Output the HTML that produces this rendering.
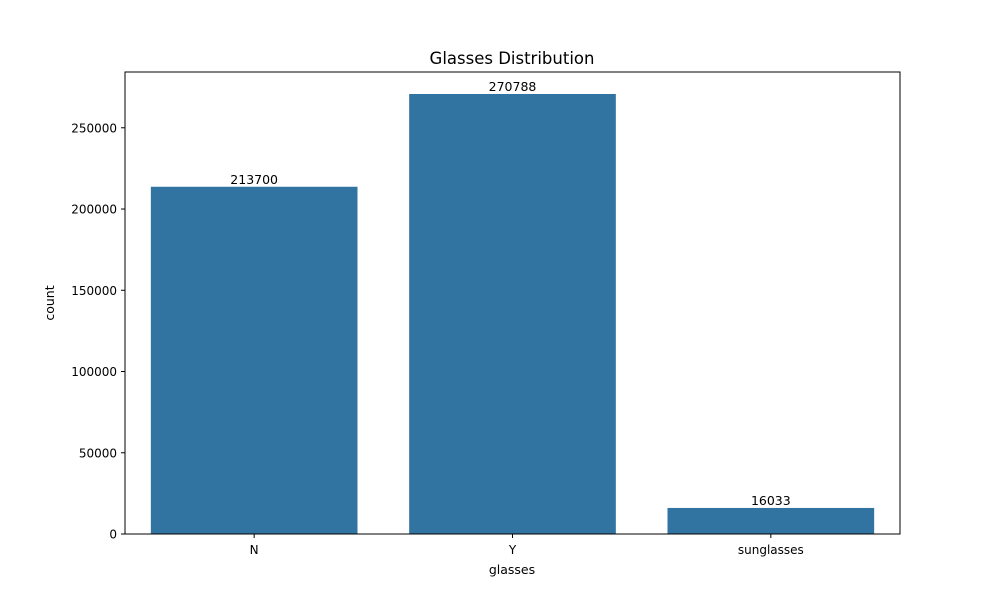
<!DOCTYPE html>
<html><head><meta charset="utf-8"><style>
body{margin:0;background:#fff}
svg text{font-family:"DejaVu Sans","Liberation Sans",sans-serif;fill:#000}
</style></head><body>
<svg id="chart" width="1000" height="600">
<rect width="1000" height="600" fill="#fff"/>
<text x="512" y="64" font-size="16.5" text-anchor="middle">Glasses Distribution</text>
<g id="plot"></g>
<rect x="125" y="72" width="775" height="462" fill="none" stroke="#000" stroke-width="1"/>
<text x="512" y="574" font-size="12.5" text-anchor="middle">glasses</text>
<text transform="translate(54,303) rotate(-90)" font-size="12.5" text-anchor="middle">count</text>
</svg>
<script>
const categories=["N","Y","sunglasses"];
const counts=[213700,270788,16033];
const yTicks=[0,50000,100000,150000,200000,250000];
const L=125,R=900,T=72,B=534;
const yMax=Math.max(...counts)*1.05;
const y=v=>B-(v/yMax)*(B-T);
const band=(R-L)/categories.length;
const x=i=>L+band*(i+0.5);
const g=document.getElementById('plot');
const NS='http://www.w3.org/2000/svg';
function mk(t,a){const e=document.createElementNS(NS,t);for(const k in a)e.setAttribute(k,a[k]);g.appendChild(e);return e;}
yTicks.forEach(v=>{
  const l=mk('line',{x1:L-4,x2:L,y1:y(v),y2:y(v),stroke:'#000'});
  
  
  const t=mk('text',{x:L-8,y:y(v)+4.5,'font-size':12,'text-anchor':'end'});t.textContent=v;
  
  
});
categories.forEach((c,i)=>{
  const w=band*0.8;
  const r=mk('rect',{x:x(i)-w/2,y:y(counts[i]),width:w,height:B-y(counts[i]),fill:'#3274a1'});
  
  
  const v=mk('text',{x:x(i),y:y(counts[i])-3,'font-size':12.5,'text-anchor':'middle'});v.textContent=counts[i];
  
  
  const tk=mk('line',{x1:x(i),x2:x(i),y1:B,y2:B+4,stroke:'#000'});
  
  
  const t=mk('text',{x:x(i),y:B+20,'font-size':12,'text-anchor':'middle'});t.textContent=c;
  
  
});
</script>
</body></html>
